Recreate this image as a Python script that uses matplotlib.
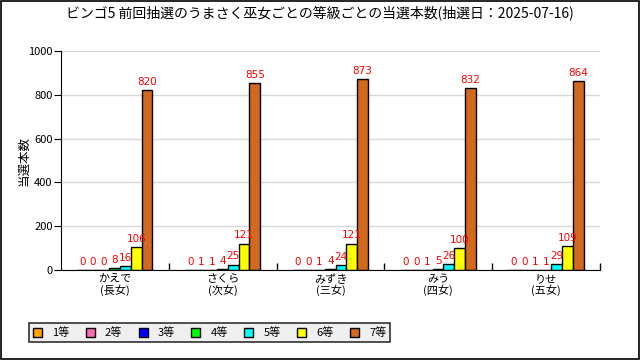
import numpy as np
import matplotlib.pyplot as plt
from matplotlib.patches import Patch, Rectangle

plt.rcParams['font.family'] = ['Noto Sans CJK JP', 'DejaVu Sans']

groups = ['かえで\n(長女)', 'さくら\n(次女)', 'みずき\n(三女)', 'みう\n(四女)', 'りせ\n(五女)']
grades = ['1等', '2等', '3等', '4等', '5等', '6等', '7等']
colors = ['#FFA500', '#FF69B4', '#0000FF', '#00FF00', '#00FFFF', '#FFFF00', '#D2691E']

kaede = [0, 0, 0, 8, 16, 106, 820]
sakura = [0, 1, 1, 4, 25, 121, 855]
mizuki = [0, 0, 1, 4, 24, 121, 873]
miu = [0, 0, 1, 5, 26, 100, 832]
rise = [0, 0, 1, 1, 29, 109, 864]
values = np.array([kaede, sakura, mizuki, miu, rise])

fig = plt.figure(figsize=(6.4, 3.6), dpi=100)
fig.patches.append(Rectangle((0.001, 0.002), 0.997, 0.995, transform=fig.transFigure,
                             fill=False, edgecolor='black', linewidth=1.2))
ax = fig.add_axes([61 / 640, 90 / 360, 539 / 640, 219 / 360])

width = 0.1
x = np.arange(len(groups))
for k in range(len(grades)):
    xs = x + 0.148 + k * width
    ax.bar(xs, values[:, k], width=width, align='edge', color=colors[k],
           edgecolor='black', linewidth=1)
    for xi, v in zip(xs, values[:, k]):
        ax.text(xi + width / 2, v + 14, str(v), color='red', fontsize=7.5,
                ha='center', va='bottom', family=['DejaVu Sans'])

ax.set_xlim(0, 5)
ax.set_ylim(0, 1000)
ax.set_yticks(np.arange(0, 1001, 200))
ax.yaxis.grid(True, color='#d9d9d9', linewidth=1)
ax.set_axisbelow(True)
ax.set_xticks(x + 0.5)
ax.set_xticklabels(groups, fontsize=8, linespacing=1.0)
ax.set_xticks(np.arange(1, 6), minor=True)
ax.tick_params(axis='x', which='major', length=0, pad=3)
ax.tick_params(axis='x', which='minor', direction='in', length=5, width=1)
ax.tick_params(axis='y', labelsize=8, length=5, pad=1)
for s in ['top', 'right']:
    ax.spines[s].set_visible(False)
ax.set_ylabel('当選本数', fontsize=9)
ax.yaxis.set_label_coords(-31 / 539, 0.5)

fig.text(0.5, 0.965, 'ビンゴ5 前回抽選のうまさく巫女ごとの等級ごとの当選本数(抽選日：2025-07-16)',
         ha='center', va='center', fontsize=10)

handles = [Patch(facecolor=c, edgecolor='black', label=g) for c, g in zip(colors, grades)]
leg = fig.legend(handles=handles, ncol=7, loc='lower left',
                 bbox_to_anchor=(29 / 640, 18 / 360), fontsize=8, frameon=True,
                 fancybox=False, edgecolor='black', facecolor='#EBEBEB',
                 handlelength=0.8, handleheight=0.9, handletextpad=0.9,
                 columnspacing=1.5, borderpad=0.35, borderaxespad=0)
leg.get_frame().set_linewidth(1.2)

fig.savefig('out.png', dpi=100)
